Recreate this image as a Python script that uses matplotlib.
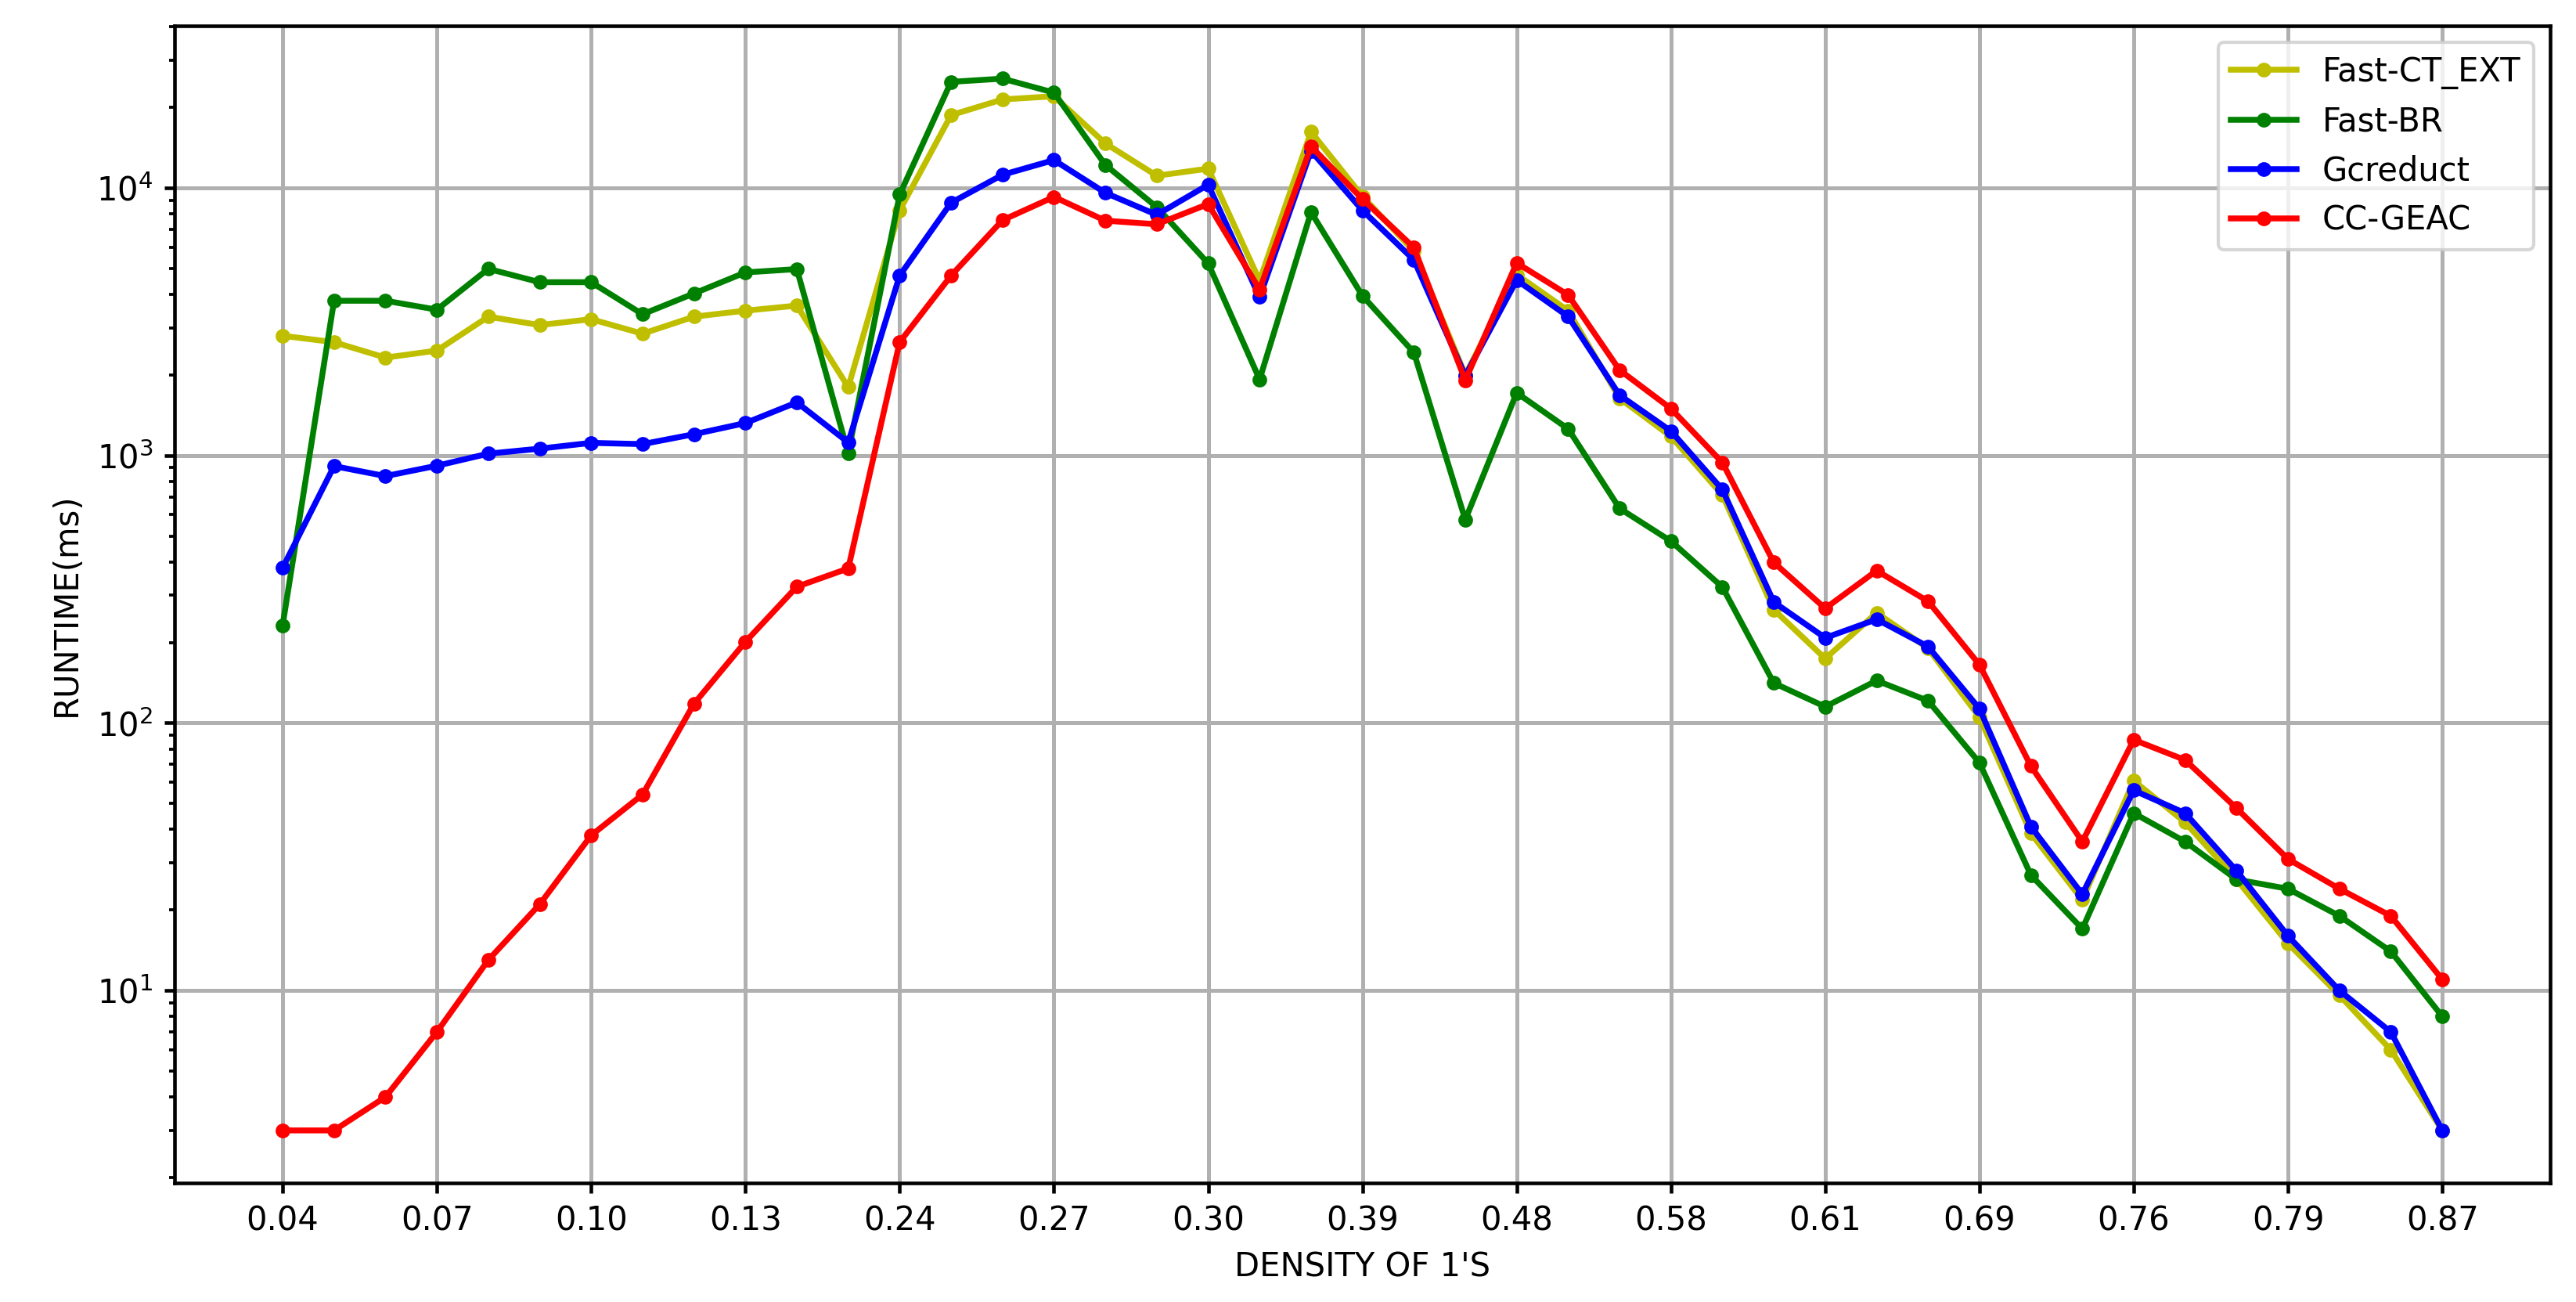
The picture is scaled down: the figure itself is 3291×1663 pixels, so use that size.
import matplotlib
matplotlib.use("Agg")
import matplotlib.pyplot as plt

# tick labels, one every 3 samples
density_ticks = ["0.04", "0.07", "0.10", "0.13", "0.24", "0.27", "0.30", "0.39",
                 "0.48", "0.58", "0.61", "0.69", "0.76", "0.79", "0.87"]

# runtime in ms, 43 samples per algorithm
fast_ct_ext = [2800, 2650, 2320, 2465, 3300, 3070, 3230, 2850, 3300, 3475, 3630, 1800,
               8240, 18700, 21400, 22000, 14660, 11100, 11800, 4500, 16200, 9300, 5800,
               2000, 4740, 3475, 1635, 1177, 711, 265, 174, 258, 190, 105, 38.7, 21.8,
               60.8, 42.5, 26, 15, 9.6, 6.0, 3.0]
fast_br = [232, 3785, 3785, 3505, 4980, 4440, 4440, 3370, 4030, 4830, 4970, 1020,
           9440, 24900, 25600, 22700, 12180, 8470, 5220, 1923, 8110, 3950, 2425,
           575, 1713, 1257, 634, 478, 322, 141, 115, 144, 121, 71, 27, 17,
           46, 36, 26, 24, 19, 14, 8.0]
gcreduct = [380, 912, 837, 915, 1015, 1060, 1114, 1102, 1200, 1321, 1578, 1118,
            4700, 8800, 11190, 12700, 9580, 7930, 10270, 3905, 13740, 8240, 5380,
            1985, 4520, 3305, 1680, 1233, 745, 283, 208, 244, 193, 113, 41, 22.9,
            56, 46, 28, 16, 10, 7.0, 3.0]
cc_geac = [3.0, 3.0, 4.0, 7.0, 13.0, 21.0, 38.0, 54.0, 118, 201, 323, 378,
           2650, 4700, 7570, 9250, 7540, 7310, 8700, 4170, 14280, 9080, 5980,
           1908, 5240, 3980, 2085, 1496, 940, 398, 268, 371, 285, 165, 69, 36,
           86.5, 72.7, 48, 31, 24, 19, 11]

x = list(range(len(cc_geac)))

plt.rcParams["axes.linewidth"] = 1.1
plt.rcParams["xtick.major.width"] = 1.1
plt.rcParams["ytick.major.width"] = 1.1
plt.rcParams["ytick.minor.width"] = 0.9
plt.rcParams["xtick.major.size"] = 3.2
plt.rcParams["ytick.major.size"] = 3.2
plt.rcParams["ytick.minor.size"] = 1.7

fig, ax = plt.subplots(figsize=(3291 / 300, 1663 / 300), dpi=300)
fig.subplots_adjust(left=0.0678, right=0.990, bottom=0.0914, top=0.980)

ax.plot(x, fast_ct_ext, "y.-", lw=1.8, ms=7, label="Fast-CT_EXT")
ax.plot(x, fast_br, "g.-", lw=1.8, ms=7, label="Fast-BR")
ax.plot(x, gcreduct, "b.-", lw=1.8, ms=7, label="Gcreduct")
ax.plot(x, cc_geac, "r.-", lw=1.8, ms=7, label="CC-GEAC")

ax.set_yscale("log")
ax.set_xticks(range(0, len(x), 3))
ax.set_xticklabels(density_ticks)
ax.set_xlabel("DENSITY OF 1'S")
ax.set_ylabel("RUNTIME(ms)")
ax.grid(True, linewidth=1.2)
ax.legend(loc="upper right")

fig.savefig("out.png", dpi=300)
